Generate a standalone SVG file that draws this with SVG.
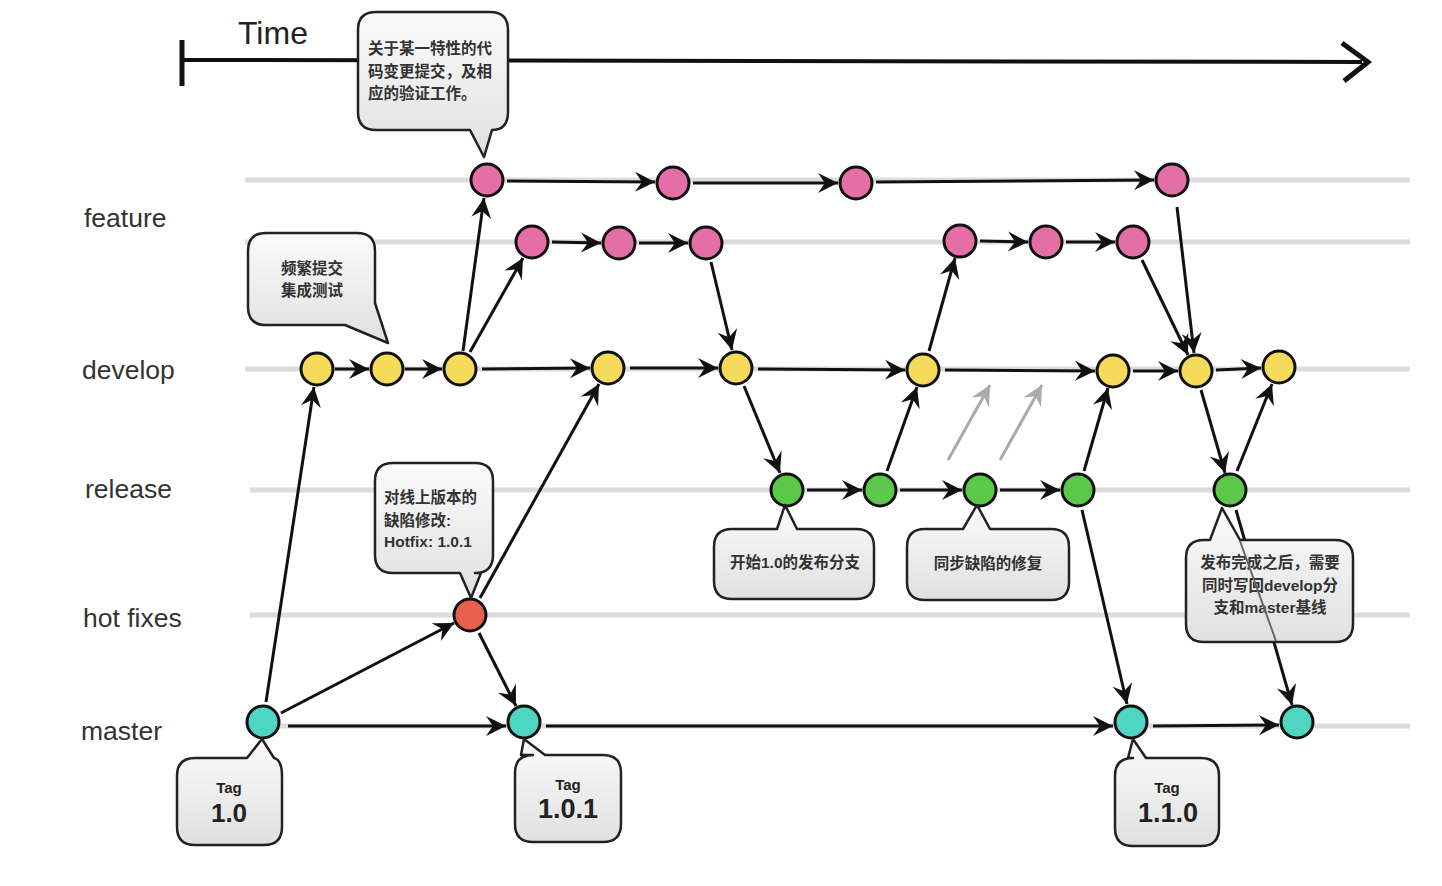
<svg xmlns="http://www.w3.org/2000/svg" width="1442" height="886" viewBox="0 0 1442 886">
<style>
.lane{stroke:#dcdcdc;stroke-width:5;fill:none}
.lbl{font-family:"Liberation Sans","Noto Sans",sans-serif;font-size:26.5px;fill:#333}
.c{stroke:#111;stroke-width:3;fill:none;marker-end:url(#ah)}
.g{stroke:#aaa;stroke-width:3;fill:none;marker-end:url(#ahg)}
.n{stroke:#111;stroke-width:3}
.pk{fill:#e46ea6}.yl{fill:#f6da5a}.gr{fill:#5cc84a}.tl{fill:#4ed6c2}.rd{fill:#e8604c}
.co{fill:url(#cg);stroke:#222;stroke-width:2.5;stroke-linejoin:round}
.ct{font-family:"Liberation Sans","Noto Sans CJK SC",sans-serif;font-size:15.5px;font-weight:bold;fill:#333}
.tg{font-family:"Liberation Sans","Noto Sans",sans-serif;fill:#222;text-anchor:middle;font-weight:bold}
</style>
<defs>
<linearGradient id="cg" x1="0" y1="0" x2="0" y2="1"><stop offset="0" stop-color="#fbfbfb"/><stop offset="1" stop-color="#e0e0e0"/></linearGradient>
<marker id="ah" markerUnits="userSpaceOnUse" markerWidth="24" markerHeight="24" refX="20" refY="10" orient="auto" overflow="visible"><path d="M0,0 L20,10 L0,20 L7,10 Z" fill="#111"/></marker>
<marker id="ahg" markerUnits="userSpaceOnUse" markerWidth="24" markerHeight="24" refX="20" refY="10" orient="auto" overflow="visible"><path d="M0,0 L20,10 L0,20 L7,10 Z" fill="#aaa"/></marker>
</defs>
<rect width="1442" height="886" fill="#fff"/>
<g id="time-axis">
<line x1="184" y1="60" x2="1362" y2="62" stroke="#111" stroke-width="4"/>
<line x1="182" y1="40" x2="182" y2="86" stroke="#111" stroke-width="5"/>
<path d="M1342,43 L1368,62 L1344,81" fill="none" stroke="#111" stroke-width="5" stroke-linejoin="miter"/>
<text x="238" y="44" font-family="Liberation Sans, sans-serif" font-size="32" fill="#222">Time</text>
</g>
<g id="lanes">
<line class="lane" x1="245" y1="180" x2="1410" y2="180"/>
<line class="lane" x1="245" y1="242" x2="1410" y2="242"/>
<line class="lane" x1="245" y1="369" x2="1410" y2="369"/>
<line class="lane" x1="250" y1="490" x2="1410" y2="490"/>
<line class="lane" x1="250" y1="615" x2="1410" y2="615"/>
<line class="lane" x1="250" y1="726" x2="1410" y2="726"/>
<text class="lbl" x="84" y="227">feature</text>
<text class="lbl" x="82" y="379">develop</text>
<text class="lbl" x="85" y="498">release</text>
<text class="lbl" x="83" y="627">hot fixes</text>
<text class="lbl" x="81" y="740">master</text>
</g>
<g id="connectors">
<line class="c" x1="507" y1="181" x2="655" y2="182"/>
<line class="c" x1="693" y1="183" x2="838" y2="183"/>
<line class="c" x1="876" y1="182" x2="1154" y2="180"/>
<line class="c" x1="552" y1="242" x2="601" y2="243"/>
<line class="c" x1="639" y1="243" x2="688" y2="243"/>
<line class="c" x1="980" y1="241" x2="1028" y2="242"/>
<line class="c" x1="1066" y1="242" x2="1115" y2="242"/>
<line class="c" x1="335" y1="369" x2="369" y2="369"/>
<line class="c" x1="405" y1="369" x2="442" y2="369"/>
<line class="c" x1="482" y1="369" x2="590" y2="368"/>
<line class="c" x1="630" y1="368" x2="718" y2="368"/>
<line class="c" x1="758" y1="369" x2="905" y2="370"/>
<line class="c" x1="945" y1="370" x2="1095" y2="371"/>
<line class="c" x1="1133" y1="371" x2="1178" y2="371"/>
<line class="c" x1="1216" y1="370" x2="1261" y2="368"/>
<line class="c" x1="807" y1="490" x2="862" y2="490"/>
<line class="c" x1="900" y1="490" x2="962" y2="490"/>
<line class="c" x1="1000" y1="490" x2="1060" y2="490"/>
<line class="c" x1="288" y1="726" x2="506" y2="726"/>
<line class="c" x1="546" y1="726" x2="1113" y2="726"/>
<line class="c" x1="1153" y1="726" x2="1279" y2="725"/>
<line class="c" x1="266" y1="702" x2="314" y2="387"/>
<line class="c" x1="281" y1="713" x2="454" y2="623"/>
<line class="c" x1="480" y1="598" x2="599" y2="384"/>
<line class="c" x1="479" y1="633" x2="516" y2="706"/>
<line class="c" x1="463" y1="351" x2="484" y2="198"/>
<line class="c" x1="470" y1="352" x2="523" y2="258"/>
<line class="c" x1="711" y1="262" x2="732" y2="350"/>
<line class="c" x1="744" y1="386" x2="780" y2="473"/>
<line class="c" x1="887" y1="471" x2="917" y2="387"/>
<line class="c" x1="929" y1="351" x2="955" y2="258"/>
<line class="c" x1="1084" y1="471" x2="1108" y2="388"/>
<line class="c" x1="1082" y1="510" x2="1127" y2="704"/>
<line class="c" x1="1142" y1="260" x2="1188" y2="355"/>
<line class="c" x1="1177" y1="207" x2="1194" y2="353"/>
<line class="c" x1="1201" y1="390" x2="1225" y2="473"/>
<line class="c" x1="1237" y1="471" x2="1272" y2="384"/>
<line class="c" x1="1236" y1="510" x2="1292" y2="705"/>
<line class="g" x1="948" y1="460" x2="990" y2="385"/>
<line class="g" x1="1000" y1="460" x2="1042" y2="385"/>
</g>
<g id="feature-nodes">
<circle class="n pk" cx="487" cy="180" r="16"/>
<circle class="n pk" cx="673" cy="183" r="16"/>
<circle class="n pk" cx="856" cy="183" r="16"/>
<circle class="n pk" cx="1172" cy="180" r="16"/>
<circle class="n pk" cx="532" cy="242" r="16"/>
<circle class="n pk" cx="619" cy="243" r="16"/>
<circle class="n pk" cx="706" cy="243" r="16"/>
<circle class="n pk" cx="960" cy="241" r="16"/>
<circle class="n pk" cx="1046" cy="242" r="16"/>
<circle class="n pk" cx="1133" cy="242" r="16"/>
</g>
<g id="develop-nodes">
<circle class="n yl" cx="317" cy="369" r="16"/>
<circle class="n yl" cx="387" cy="369" r="16"/>
<circle class="n yl" cx="460" cy="369" r="16"/>
<circle class="n yl" cx="608" cy="368" r="16"/>
<circle class="n yl" cx="736" cy="368" r="16"/>
<circle class="n yl" cx="923" cy="370" r="16"/>
<circle class="n yl" cx="1113" cy="371" r="16"/>
<circle class="n yl" cx="1196" cy="371" r="16"/>
<circle class="n yl" cx="1279" cy="367" r="16"/>
</g>
<g id="release-nodes">
<circle class="n gr" cx="787" cy="490" r="16"/>
<circle class="n gr" cx="880" cy="490" r="16"/>
<circle class="n gr" cx="980" cy="490" r="16"/>
<circle class="n gr" cx="1078" cy="490" r="16"/>
<circle class="n gr" cx="1230" cy="490" r="16"/>
</g>
<g id="hotfix-node">
<circle class="n rd" cx="470" cy="615" r="16"/>
</g>
<g id="master-nodes">
<circle class="n tl" cx="263" cy="722" r="16"/>
<circle class="n tl" cx="524" cy="722" r="16"/>
<circle class="n tl" cx="1131" cy="722" r="16"/>
<circle class="n tl" cx="1297" cy="722" r="16"/>
</g>
<g id="callout-feature">
<path class="co" d="M376,12 H490 Q508,12 508,30 V112 Q508,130 492,130 L484,157 L470,130 H376 Q358,130 358,112 V30 Q358,12 376,12 Z"/>
<text class="ct" x="368" y="54">关于某一特性的代</text>
<text class="ct" x="368" y="77">码变更提交，及相</text>
<text class="ct" x="368" y="99">应的验证工作。</text>
</g>
<g id="callout-develop">
<path class="co" d="M266,233 H357 Q375,233 375,251 V303 L388,343 L345,325 H266 Q248,325 248,307 V251 Q248,233 266,233 Z"/>
<text class="ct" x="312" y="274" text-anchor="middle">频繁提交</text>
<text class="ct" x="312" y="296" text-anchor="middle">集成测试</text>
</g>
<g id="callout-hotfix">
<path class="co" d="M393,463 H475 Q493,463 493,481 V555 Q493,573 475,573 H481 L471,598 L460,573 H393 Q375,573 375,555 V481 Q375,463 393,463 Z"/>
<text class="ct" x="384" y="503">对线上版本的</text>
<text class="ct" x="384" y="526">缺陷修改:</text>
<text class="ct" x="384" y="547">Hotfix: 1.0.1</text>
</g>
<g id="callout-release-start">
<path class="co" d="M732,529 H777 L785,505 L797,529 H856 Q874,529 874,547 V581 Q874,599 856,599 H732 Q714,599 714,581 V547 Q714,529 732,529 Z"/>
<text class="ct" x="795" y="568" text-anchor="middle">开始1.0的发布分支</text>
</g>
<g id="callout-sync">
<path class="co" d="M925,529 H963 L977,505 L990,529 H1051 Q1069,529 1069,547 V582 Q1069,600 1051,600 H925 Q907,600 907,582 V547 Q907,529 925,529 Z"/>
<text class="ct" x="988" y="569" text-anchor="middle">同步缺陷的修复</text>
</g>
<g id="callout-finish">
<path class="co" d="M1204,540 H1210 L1222,508 L1240,540 H1335 Q1353,540 1353,558 V624 Q1353,642 1335,642 H1204 Q1186,642 1186,624 V558 Q1186,540 1204,540 Z"/>
<text class="ct" x="1270" y="568" text-anchor="middle">发布完成之后，需要</text>
<text class="ct" x="1270" y="591" text-anchor="middle">同时写回develop分</text>
<text class="ct" x="1270" y="613" text-anchor="middle">支和master基线</text>
<line x1="1240" y1="541" x2="1276" y2="641" stroke="#666" stroke-width="2"/>
</g>
<g id="tag-1-0">
<path class="co" d="M195,758 H247 L262,739 L274,758 Q282,760 282,776 V827 Q282,845 264,845 H195 Q177,845 177,827 V776 Q177,758 195,758 Z"/>
<text class="tg" x="229" y="793" font-size="15">Tag</text>
<text class="tg" x="229" y="822" font-size="26">1.0</text>
</g>
<g id="tag-1-0-1">
<path class="co" d="M533,755 H521 L524,739 L545,755 H603 Q621,755 621,773 V824 Q621,842 603,842 H533 Q515,842 515,824 V773 Q515,755 533,755 Z"/>
<text class="tg" x="568" y="790" font-size="15">Tag</text>
<text class="tg" x="568" y="818" font-size="27">1.0.1</text>
</g>
<g id="tag-1-1-0">
<path class="co" d="M1133,758 H1128 L1133,739 L1146,758 H1201 Q1219,758 1219,776 V828 Q1219,846 1201,846 H1133 Q1115,846 1115,828 V776 Q1115,758 1133,758 Z"/>
<text class="tg" x="1167" y="793" font-size="15">Tag</text>
<text class="tg" x="1168" y="822" font-size="27">1.1.0</text>
</g>
</svg>
